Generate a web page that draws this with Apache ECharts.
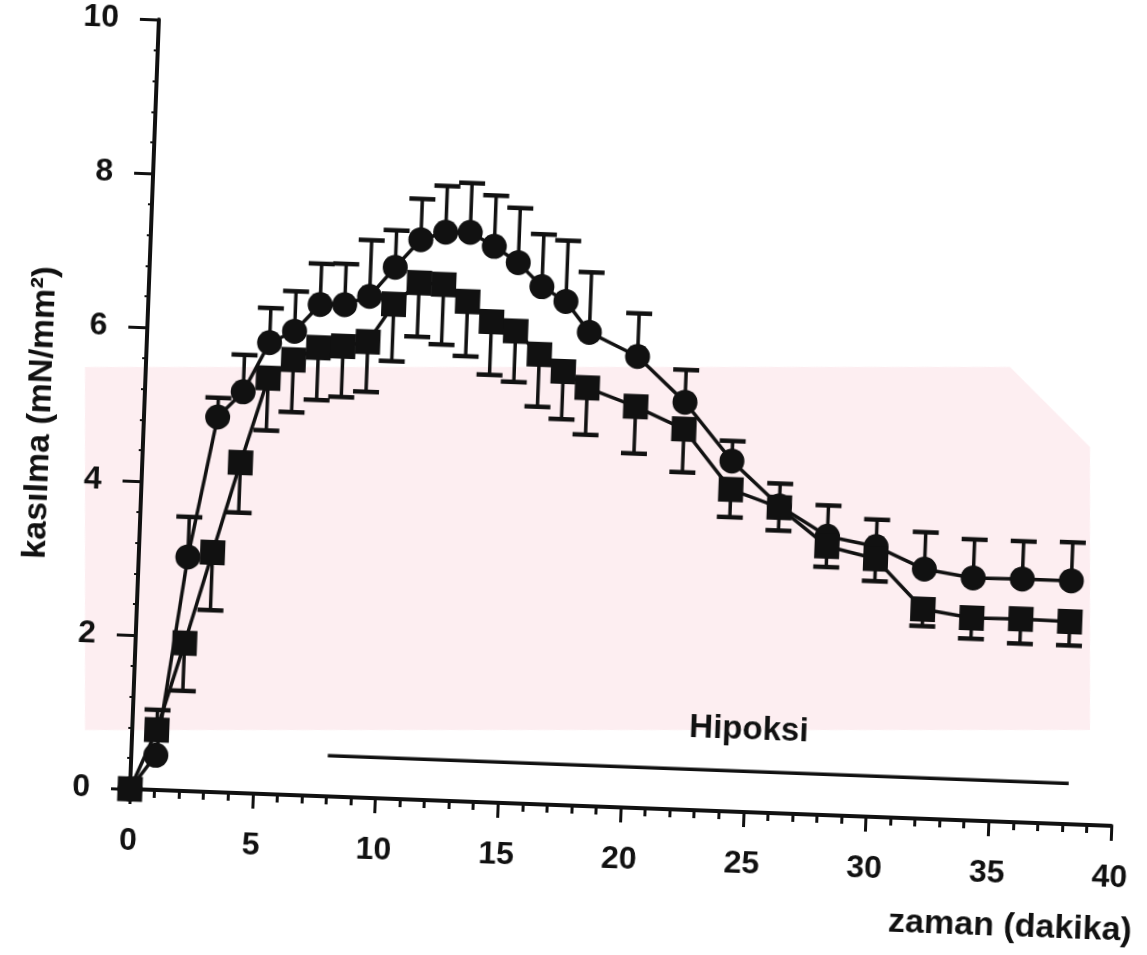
<!DOCTYPE html>
<html>
<head>
<meta charset="utf-8">
<script src="https://cdn.jsdelivr.net/npm/echarts@6/dist/echarts.min.js"></script>
<style>
  html, body { margin: 0; padding: 0; background: #fff; }
  #chart { width: 1147px; height: 955px; transform: rotate(2.15deg); transform-origin: 130px 789px; }
</style>
</head>
<body>
<div id="chart"></div>
<script>
// time (minutes)
const times = [0,1,2,3,4,5,6,7,8,9,10,11,12,13,14,15,16,17,18,20,22,24,26,28,30,32,34,36,38];
// circle series (contraction, mN/mm2) and upper error
const circleVals  = [0,0.45,3.04,4.87,5.21,5.86,6.02,6.38,6.39,6.51,6.90,7.27,7.38,7.39,7.22,7.02,6.72,6.54,6.15,5.86,5.29,4.55,3.99,3.62,3.51,3.24,3.15,3.16,3.16];
const circleErrUp = [0,0,0.52,0.25,0.48,0.45,0.52,0.53,0.53,0.73,0.48,0.53,0.60,0.64,0.66,0.71,0.68,0.79,0.78,0.56,0.42,0.26,0.29,0.40,0.35,0.48,0.50,0.49,0.50];
// square series and its errors
const squareVals    = [0,0.78,1.92,3.11,4.29,5.40,5.65,5.82,5.85,5.92,6.42,6.71,6.70,6.49,6.24,6.13,5.84,5.63,5.43,5.21,4.94,4.18,3.97,3.49,3.35,2.72,2.63,2.64,2.63];
const squareErrDown = [0,0,0.62,0.75,0.65,0.68,0.68,0.68,0.66,0.65,0.74,0.70,0.78,0.71,0.69,0.66,0.68,0.62,0.61,0.61,0.56,0.36,0.30,0.27,0.29,0.22,0.27,0.32,0.31];
const squareErrUp   = [0,0.26,0,0,0,0,0,0,0,0,0,0,0,0,0,0,0,0,0,0,0,0,0,0,0,0,0,0,0];
// hypoxia bar
const hipoksiStart = 8, hipoksiEnd = 38.2, hipoksiLevel = 0.53;
const hipoksiLabel = 'Hipoksi';
const hipoksiLabelPos = [25.1, 1.07];
// axes
const xMin = 0, xMax = 40, xStep = 5;
const yMin = 0, yMax = 10, yStep = 2;
const xTitle = 'zaman (dakika)';
const yTitle = 'kasılma (mN/mm²)';

const INK = '#111';
const FONT = "'Liberation Sans', Arial, sans-serif";

// page tilt of the scanned figure
const TILT_DEG = 2.15, ORIGIN = [130, 789];
const TILT = TILT_DEG * Math.PI / 180;
// convert an unrotated page point to the chart's own (rotated) frame
function toLocal(px, py) {
  const dx = px - ORIGIN[0], dy = py - ORIGIN[1];
  const c = Math.cos(TILT), s = Math.sin(TILT);
  return [ORIGIN[0] + dx * c + dy * s, ORIGIN[1] - dx * s + dy * c];
}
// faint background watermark band of the scanned page (page pixels)
const wmOutline = [[85, 367], [1010, 367], [1090, 447], [1090, 730], [85, 730]];

function errSeries(vals, errs, dir) {
  return {
    type: 'custom',
    z: 2,
    data: times.map((t, i) => [t, vals[i], errs[i]]),
    renderItem: function (params, api) {
      const t = api.value(0), v = api.value(1), e = api.value(2);
      if (!e) return null;
      const p0 = api.coord([t, v]);
      const p1 = api.coord([t, v + dir * e]);
      const hw = 13;
      return {
        type: 'group',
        children: [
          { type: 'line', shape: { x1: p0[0], y1: p0[1], x2: p1[0], y2: p1[1] }, style: { stroke: INK, lineWidth: 3.5 } },
          { type: 'line', shape: { x1: p1[0] - hw, y1: p1[1], x2: p1[0] + hw, y2: p1[1] }, style: { stroke: INK, lineWidth: 4.5 } }
        ]
      };
    }
  };
}

const chart = echarts.init(document.getElementById('chart'), null, { renderer: 'canvas' });
chart.setOption({
  animation: false,
  backgroundColor: 'transparent',
  graphic: [{
    type: 'polygon', z: -10, silent: true,
    shape: { points: wmOutline.map(p => toLocal(p[0], p[1])) },
    style: { fill: '#fdeef1' }
  }],
  grid: { left: 130, top: 19, width: 982, height: 770, containLabel: false },
  xAxis: {
    type: 'value', min: xMin, max: xMax, interval: xStep,
    name: xTitle, nameLocation: 'middle', nameGap: 88,
    nameTextStyle: { fontFamily: FONT, fontWeight: 'bold', fontSize: 34, color: INK, padding: [0, 0, 0, 787] },
    axisLine: { show: true, onZero: false, lineStyle: { color: INK, width: 4 } },
    axisTick: { show: true, inside: false, length: 15, lineStyle: { color: INK, width: 3 } },
    minorTick: { show: true, splitNumber: 5, length: 8, lineStyle: { color: INK, width: 3 } },
    splitLine: { show: false },
    axisLabel: { margin: 36, fontFamily: FONT, fontWeight: 'bold', fontSize: 32, color: INK }
  },
  yAxis: {
    type: 'value', min: yMin, max: yMax, interval: yStep,
    name: yTitle, nameLocation: 'middle', nameGap: 82, nameRotate: 90,
    nameTextStyle: { fontFamily: FONT, fontWeight: 'bold', fontSize: 34, color: INK, padding: [0, 24, 0, 0] },
    axisLine: { show: true, onZero: false, lineStyle: { color: INK, width: 4 } },
    axisTick: { show: true, inside: false, length: 19, lineStyle: { color: INK, width: 3 } },
    minorTick: { show: true, splitNumber: 5, length: 4, lineStyle: { color: INK, width: 2 } },
    splitLine: { show: false },
    axisLabel: { margin: 40, fontFamily: FONT, fontWeight: 'bold', fontSize: 32, color: INK }
  },
  series: [
    errSeries(circleVals, circleErrUp, 1),
    errSeries(squareVals, squareErrDown, -1),
    errSeries(squareVals, squareErrUp, 1),
    {
      name: 'circle', type: 'line', z: 3,
      data: times.map((t, i) => [t, circleVals[i]]),
      symbol: 'circle', symbolSize: 25, showAllSymbol: true,
      lineStyle: { color: INK, width: 3.5 },
      itemStyle: { color: INK, borderWidth: 0 }
    },
    {
      name: 'square', type: 'line', z: 4,
      data: times.map((t, i) => [t, squareVals[i]]),
      symbol: 'rect', symbolSize: 25, showAllSymbol: true,
      lineStyle: { color: INK, width: 3.5 },
      itemStyle: { color: INK, borderWidth: 0 }
    },
    {
      name: 'hipoksi', type: 'line', z: 3,
      data: [[hipoksiStart, hipoksiLevel], [hipoksiEnd, hipoksiLevel]],
      symbol: 'none',
      lineStyle: { color: INK, width: 3.5 }
    },
    {
      name: 'hipoksiLabel', type: 'scatter', z: 5,
      data: [hipoksiLabelPos],
      symbolSize: 1,
      itemStyle: { color: 'rgba(0,0,0,0)', opacity: 1 },
      label: {
        show: true, position: 'inside', formatter: hipoksiLabel,
        fontFamily: FONT, fontWeight: 'bold', fontSize: 33, color: INK
      }
    }
  ]
});
</script>
</body>
</html>
